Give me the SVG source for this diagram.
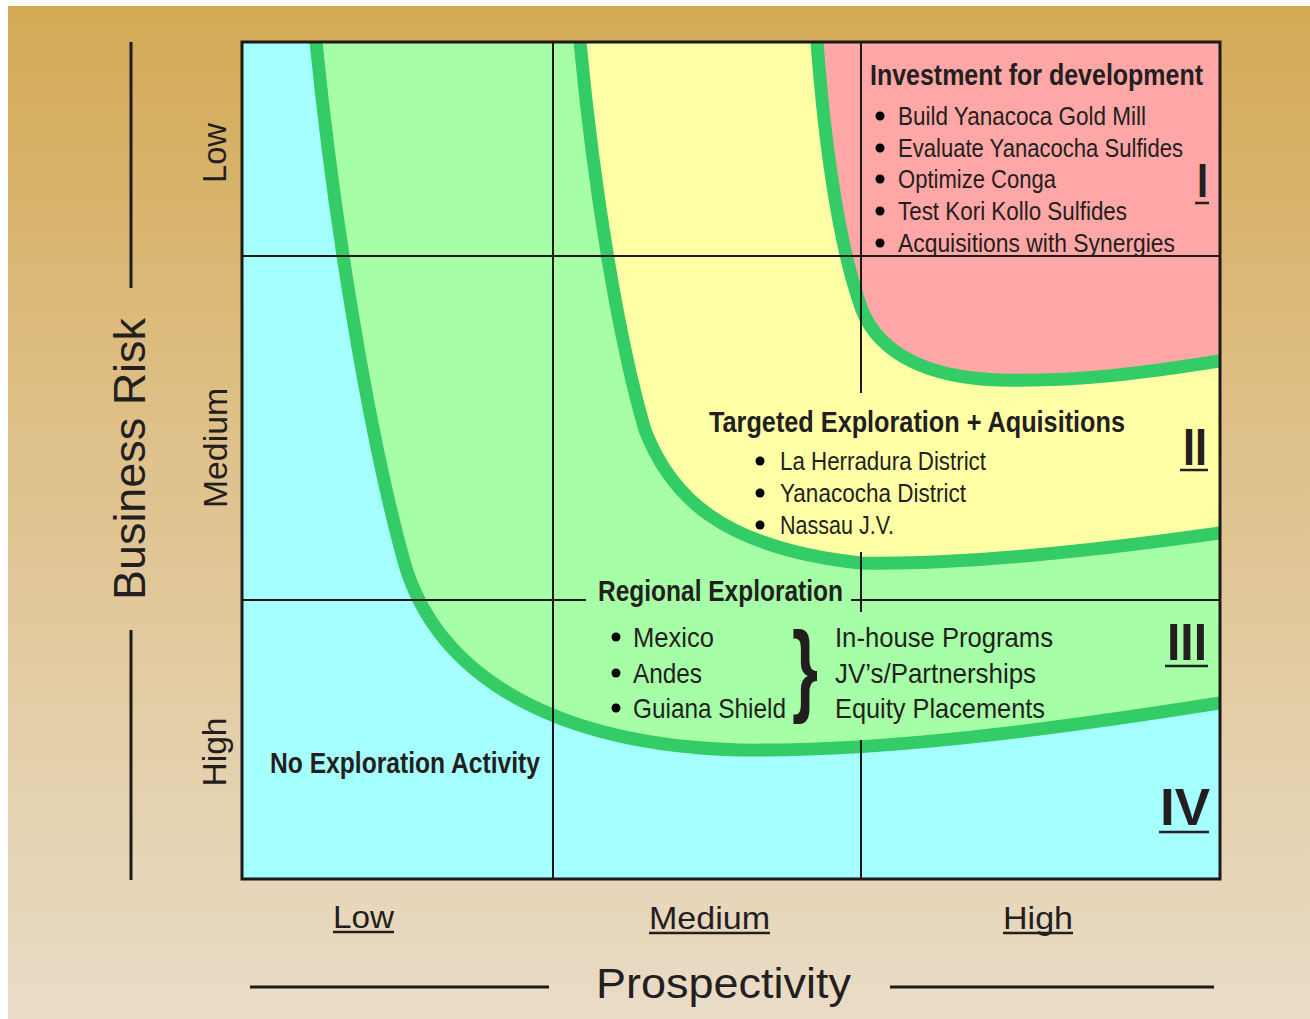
<svg xmlns="http://www.w3.org/2000/svg" width="1310" height="1019" viewBox="0 0 1310 1019">
<defs>
<linearGradient id="bg" x1="0" y1="0" x2="0" y2="1">
<stop offset="0" stop-color="#D3A955"/>
<stop offset="0.45" stop-color="#DFC28C"/>
<stop offset="1" stop-color="#E9DCC7"/>
</linearGradient>
<clipPath id="box"><rect x="242" y="42" width="978" height="837"/></clipPath>
<style>
.t{font-family:"Liberation Sans Narrow","Liberation Sans",Arial,sans-serif;fill:#231F20}
.r{font-family:"Liberation Sans",Arial,sans-serif}
.b{font-weight:bold}
.g{stroke:#1E1A1A;stroke-width:2;fill:none}
.band{fill:none;stroke:#33CC66;stroke-width:13;stroke-linecap:round}
.ax{stroke:#1E1A1A;stroke-width:3;fill:none}
.ul{stroke:#231F20;stroke-width:2.5}
.dot{fill:#000}
</style>
</defs>
<rect x="0" y="0" width="1310" height="1019" fill="#FFFFFF"/>
<rect x="8" y="6" width="1302" height="1013" fill="url(#bg)"/>

<g id="regions" clip-path="url(#box)">
<rect id="zone-IV" x="242" y="42" width="978" height="837" fill="#A6FFFF"/>
<path id="zone-III" fill="#A6FFA6" d="M316,42 C335,230 370,440 405,565 C440,680 560,745 740,750 C880,752 1050,730 1220,703 L1230,703 L1230,30 L310,30 Z"/>
<path id="zone-II" fill="#FFFFA6" d="M580,42 C595,200 620,345 645,430 C670,495 720,548 861,563 C960,565 1100,550 1220,533 L1230,533 L1230,30 L575,30 Z"/>
<path id="zone-I" fill="#FFA6A6" d="M817,42 C825,150 840,250 862,310 C880,355 930,378 1000,380 C1080,382 1150,372 1220,361 L1230,361 L1230,30 L812,30 Z"/>
<path class="band" d="M316,30 L316,42 C335,230 370,440 405,565 C440,680 560,745 740,750 C880,752 1050,730 1220,703 L1240,700"/>
<path class="band" d="M579,30 L580,42 C595,200 620,345 645,430 C670,495 720,548 861,563 C960,565 1100,550 1220,533 L1240,530"/>
<path class="band" d="M816,30 L817,42 C825,150 840,250 862,310 C880,355 930,378 1000,380 C1080,382 1150,372 1220,361 L1240,358"/>
</g>

<g id="connectors">
<line class="g" x1="553" y1="42" x2="553" y2="879"/>
<line class="g" x1="861" y1="42" x2="861" y2="393"/>
<line class="g" x1="861" y1="552" x2="861" y2="612"/>
<line class="g" x1="861" y1="740" x2="861" y2="879"/>
<line class="g" x1="242" y1="256" x2="1220" y2="256"/>
<line class="g" x1="242" y1="600" x2="586" y2="600"/>
<line class="g" x1="851" y1="600" x2="1220" y2="600"/>
<rect x="242" y="42" width="978" height="837" fill="none" stroke="#1E1A1A" stroke-width="3"/>
<line class="ax" x1="131" y1="42" x2="131" y2="288"/>
<line class="ax" x1="131" y1="630" x2="131" y2="880"/>
<line class="ax" x1="250" y1="987" x2="549" y2="987"/>
<line class="ax" x1="890" y1="987" x2="1214" y2="987"/>
</g>

<g id="node-I">
<text class="t b" x="870" y="85" font-size="29" textLength="333" lengthAdjust="spacingAndGlyphs">Investment for development</text>
<circle class="dot" cx="880" cy="116" r="4.5"/>
<circle class="dot" cx="880" cy="148" r="4.5"/>
<circle class="dot" cx="880" cy="179" r="4.5"/>
<circle class="dot" cx="880" cy="211" r="4.5"/>
<circle class="dot" cx="880" cy="243" r="4.5"/>
<text class="t" x="898" y="125" font-size="25" textLength="248" lengthAdjust="spacingAndGlyphs">Build Yanacoca Gold Mill</text>
<text class="t" x="898" y="157" font-size="25" textLength="285" lengthAdjust="spacingAndGlyphs">Evaluate Yanacocha Sulfides</text>
<text class="t" x="898" y="188" font-size="25" textLength="158" lengthAdjust="spacingAndGlyphs">Optimize Conga</text>
<text class="t" x="898" y="220" font-size="25" textLength="229" lengthAdjust="spacingAndGlyphs">Test Kori Kollo Sulfides</text>
<text class="t" x="898" y="252" font-size="25" textLength="277" lengthAdjust="spacingAndGlyphs">Acquisitions with Synergies</text>
<text class="t b" x="1197" y="197" font-size="48" textLength="11" lengthAdjust="spacingAndGlyphs">I</text>
<line class="ul" x1="1195" y1="203" x2="1209" y2="203"/>
</g>

<g id="node-II">
<text class="t b" x="709" y="432" font-size="29" textLength="416" lengthAdjust="spacingAndGlyphs">Targeted Exploration + Aquisitions</text>
<circle class="dot" cx="760" cy="461" r="4.5"/>
<circle class="dot" cx="760" cy="493" r="4.5"/>
<circle class="dot" cx="760" cy="525" r="4.5"/>
<text class="t" x="780" y="470" font-size="25" textLength="206" lengthAdjust="spacingAndGlyphs">La Herradura District</text>
<text class="t" x="780" y="502" font-size="25" textLength="186" lengthAdjust="spacingAndGlyphs">Yanacocha District</text>
<text class="t" x="780" y="534" font-size="25" textLength="114" lengthAdjust="spacingAndGlyphs">Nassau J.V.</text>
<text class="t b" x="1183" y="465" font-size="51" textLength="24" lengthAdjust="spacingAndGlyphs">II</text>
<line class="ul" x1="1180" y1="470" x2="1208" y2="470"/>
</g>

<g id="node-III">
<text class="t b" x="598" y="601" font-size="29" textLength="245" lengthAdjust="spacingAndGlyphs">Regional Exploration</text>
<circle class="dot" cx="616" cy="637" r="4.5"/>
<circle class="dot" cx="616" cy="673" r="4.5"/>
<circle class="dot" cx="616" cy="708" r="4.5"/>
<text class="t" x="633" y="647" font-size="28" textLength="81" lengthAdjust="spacingAndGlyphs">Mexico</text>
<text class="t" x="633" y="683" font-size="28" textLength="69" lengthAdjust="spacingAndGlyphs">Andes</text>
<text class="t" x="633" y="718" font-size="28" textLength="153" lengthAdjust="spacingAndGlyphs">Guiana Shield</text>
<text class="t b" x="792" y="703" font-size="102" textLength="26" lengthAdjust="spacingAndGlyphs">}</text>
<text class="t" x="835" y="647" font-size="28" textLength="218" lengthAdjust="spacingAndGlyphs">In-house Programs</text>
<text class="t" x="835" y="683" font-size="28" textLength="201" lengthAdjust="spacingAndGlyphs">JV’s/Partnerships</text>
<text class="t" x="835" y="718" font-size="28" textLength="210" lengthAdjust="spacingAndGlyphs">Equity Placements</text>
<text class="t b" x="1167" y="660" font-size="51" textLength="40" lengthAdjust="spacingAndGlyphs">III</text>
<line class="ul" x1="1165" y1="666" x2="1208" y2="666"/>
</g>

<g id="node-IV">
<text class="t b" x="270" y="773" font-size="29" textLength="270" lengthAdjust="spacingAndGlyphs">No Exploration Activity</text>
<text class="t b" x="1160" y="825" font-size="51" textLength="50" lengthAdjust="spacingAndGlyphs">IV</text>
<line class="ul" x1="1159" y1="832" x2="1209" y2="832"/>
</g>

<g id="axis-y">
<text class="t r" transform="translate(145,459) rotate(-90)" text-anchor="middle" font-size="45" textLength="282" lengthAdjust="spacingAndGlyphs">Business Risk</text>
<text class="t r" transform="translate(226,153) rotate(-90)" text-anchor="middle" font-size="33" textLength="60" lengthAdjust="spacingAndGlyphs">Low</text>
<text class="t r" transform="translate(227,448) rotate(-90)" text-anchor="middle" font-size="33" textLength="120" lengthAdjust="spacingAndGlyphs">Medium</text>
<text class="t r" transform="translate(226,752) rotate(-90)" text-anchor="middle" font-size="33" textLength="69" lengthAdjust="spacingAndGlyphs">High</text>
</g>

<g id="axis-x">
<text class="t r" x="333" y="928" font-size="32" textLength="61" lengthAdjust="spacingAndGlyphs">Low</text>
<line class="ul" x1="333" y1="932" x2="394" y2="932"/>
<text class="t r" x="649" y="929" font-size="32" textLength="121" lengthAdjust="spacingAndGlyphs">Medium</text>
<line class="ul" x1="649" y1="933" x2="770" y2="933"/>
<text class="t r" x="1003" y="929" font-size="32" textLength="70" lengthAdjust="spacingAndGlyphs">High</text>
<line class="ul" x1="1003" y1="933" x2="1073" y2="933"/>
<text class="t r" x="596" y="998" font-size="43" textLength="255" lengthAdjust="spacingAndGlyphs">Prospectivity</text>
</g>
</svg>
